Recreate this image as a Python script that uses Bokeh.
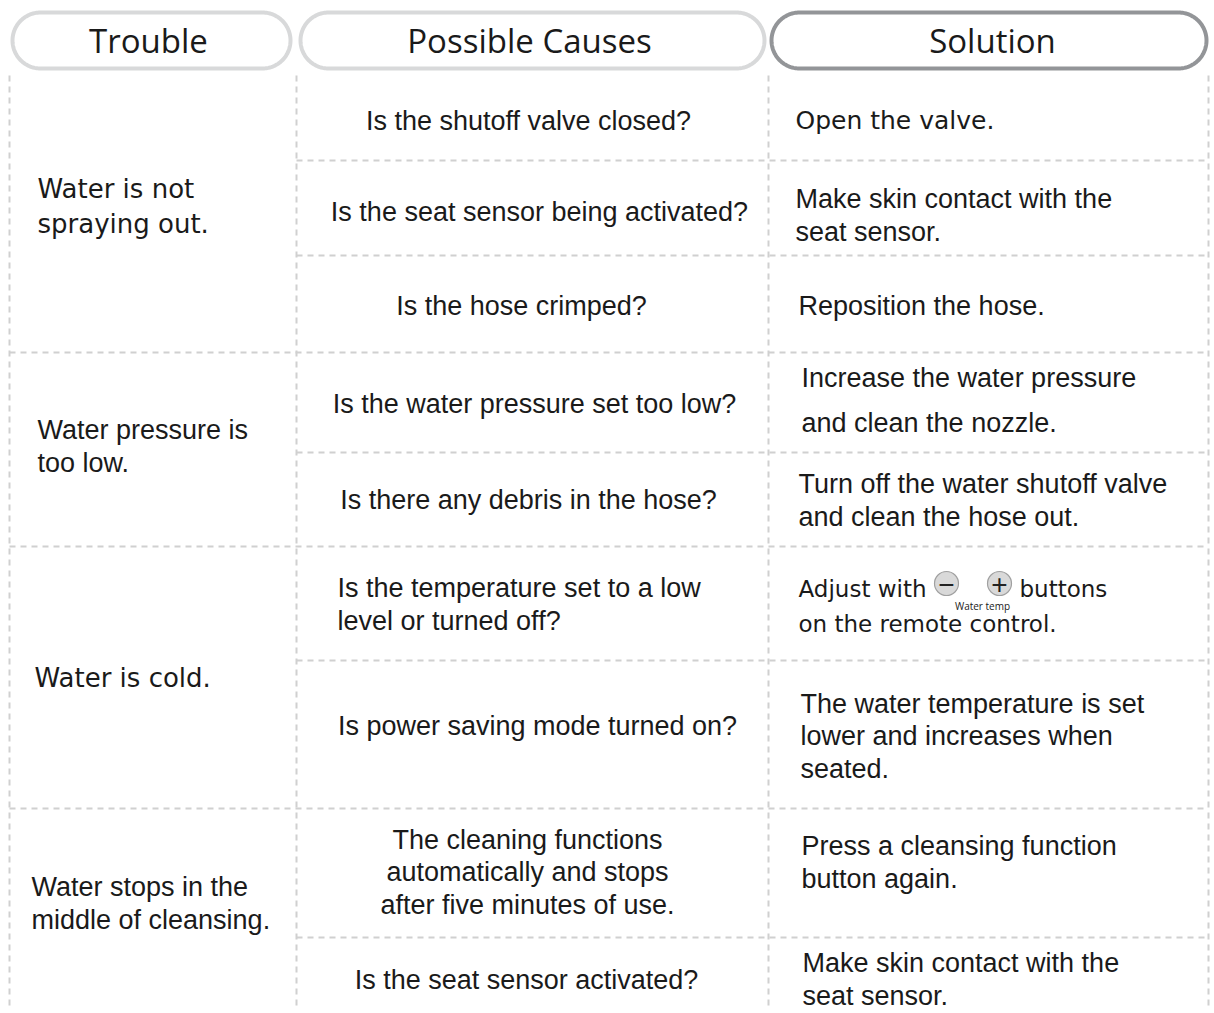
import numpy as np
from bokeh.plotting import figure
from bokeh.models import Range1d, ColumnDataSource
from bokeh.core.properties import value
from bokeh.embed import file_html
from bokeh.resources import INLINE

# ---------------- data ----------------
headers = ["Trouble", "Possible Causes", "Solution"]
troubles = [
    "Water is not\nspraying out.",
    "Water pressure is\ntoo low.",
    "Water is cold.",
    "Water stops in the\nmiddle of cleansing.",
]
causes = [
    "Is the shutoff valve closed?",
    "Is the seat sensor being activated?",
    "Is the hose crimped?",
    "Is the water pressure set too low?",
    "Is there any debris in the hose?",
    "Is the temperature set to a low\nlevel or turned off?",
    "Is power saving mode turned on?",
    "The cleaning functions\nautomatically and stops\nafter five minutes of use.",
    "Is the seat sensor activated?",
]
solutions = [
    "Open the valve.",
    "Make skin contact with the\nseat sensor.",
    "Reposition the hose.",
    "Increase the water pressure\nand clean the nozzle.",
    "Turn off the water shutoff valve\nand clean the hose out.",
    "Adjust with | buttons\non the remote control.",
    "The water temperature is set\nlower and increases when\nseated.",
    "Press a cleansing function\nbutton again.",
    "Make skin contact with the\nseat sensor.",
]
button_symbols = ["\u2212", "+"]
button_caption = "Water temp"

# ---------------- layout ----------------
W, H = 1210, 1010

ARIAL = "Liberation Sans"
WIDE = "DejaVu Sans"
HEAD = "Open Sans"
INK = "#1a1a1a"

p = figure(width=W, height=H, output_backend="svg", toolbar_location=None,
           x_range=Range1d(0, W), y_range=Range1d(H, 0),
           x_axis_type=None, y_axis_type=None, min_border=0,
           background_fill_color="white", border_fill_color="white",
           outline_line_color=None)
p.grid.visible = False

# header pills
pill_x = [(12, 290), (300, 764), (771, 1206)]
pill_y = (12, 68)
pill_col = ["#d8d9da", "#d8d9da", "#939598"]
head_cx = [148, 529, 992]


def stadium(x0, x1, y0, y1, n=60):
    r = (y1 - y0) / 2.0
    yc = (y0 + y1) / 2.0
    t1 = np.linspace(-np.pi / 2, np.pi / 2, n)
    t2 = np.linspace(np.pi / 2, 3 * np.pi / 2, n)
    xs = np.concatenate([x1 - r + r * np.cos(t1), x0 + r + r * np.cos(t2)])
    ys = np.concatenate([yc + r * np.sin(t1), yc + r * np.sin(t2)])
    xs = np.append(xs, xs[0])
    ys = np.append(ys, ys[0])
    return xs, ys


for (a, b), c in zip(pill_x, pill_col):
    xs, ys = stadium(a, b, pill_y[0], pill_y[1])
    p.line(xs, ys, line_color=c, line_width=4)

p.text(x=head_cx, y=[40] * 3, text=headers, text_font=value(HEAD),
       text_font_size="33px", text_align="center", text_baseline="middle",
       text_color=INK)

# dashed grid
DASH = "6 5"
GRID = "#d0d0d0"
RIGHT = 1208
col_lines = [9, 296, 768, RIGHT]
full_rows = [352, 546, 808]
sub_rows = [160, 255, 452, 660, 937]
p.segment(x0=col_lines, y0=[75] * 4, x1=col_lines, y1=[H] * 4,
          line_color=GRID, line_width=2, line_dash=DASH)
p.segment(x0=[9] * 3, y0=full_rows, x1=[RIGHT] * 3, y1=full_rows,
          line_color=GRID, line_width=2, line_dash=DASH)
p.segment(x0=[296] * 5, y0=sub_rows, x1=[RIGHT] * 5, y1=sub_rows,
          line_color=GRID, line_width=2, line_dash=DASH)


def draw(texts, xs, ys, align, font, size, lh):
    src = ColumnDataSource(dict(x=xs, y=ys, t=texts))
    p.text(x="x", y="y", text="t", source=src, text_font=value(font),
           text_font_size=size, text_align=align, text_baseline="middle",
           text_color=INK, text_line_height=lh)


AR = "27px"
LH = 1.07

# trouble column
draw([troubles[1], troubles[3]], [37, 31], [446, 903], "left", ARIAL, AR, LH)
draw([troubles[0], troubles[2]], [37, 34], [206, 677], "left", WIDE, "26px", 1.17)

# causes column
c_center = [0, 1, 2, 3, 4, 6, 7, 8]
c_cx = [528, 539, 521, 534, 528, 537, 527, 526]
c_cy = [120, 211, 305, 403, 499, 725, 872, 979]
draw([causes[i] for i in c_center], c_cx, c_cy, "center", ARIAL, AR, LH)
draw([causes[5]], [337], [604], "left", ARIAL, AR, LH)

# solution column
s_idx = [1, 2, 4, 6, 7, 8]
s_x = [795, 798, 798, 800, 801, 802]
s_y = [215, 305, 500, 736, 862, 979]
draw([solutions[i] for i in s_idx], s_x, s_y, "left", ARIAL, AR, LH)
draw([solutions[3]], [801], [400], "left", ARIAL, AR, 1.5)
draw([solutions[0]], [795], [120], "left", WIDE, "25px", 1.2)

first, second = solutions[5].split("\n")
left_part, right_part = [s.strip() for s in first.split("|")]
draw([left_part, right_part, second], [798, 1019, 798], [588, 588, 623],
     "left", WIDE, "23px", 1.2)

# water temp buttons
bx = [946, 999]
by = [583, 583]
p.circle(x=bx, y=by, radius=12, fill_color="#d9d9d9", line_color="#a0a0a0",
         line_width=1.2)
p.text(x=bx, y=[584, 584], text=button_symbols, text_font=value(ARIAL),
       text_font_size="28px", text_align="center", text_baseline="middle",
       text_color="#222222")
p.text(x=[982], y=[605], text=[button_caption], text_font=value(HEAD),
       text_font_size="10px", text_align="center", text_baseline="middle",
       text_color=INK)

open("out.html", "w").write(file_html(p, INLINE))
